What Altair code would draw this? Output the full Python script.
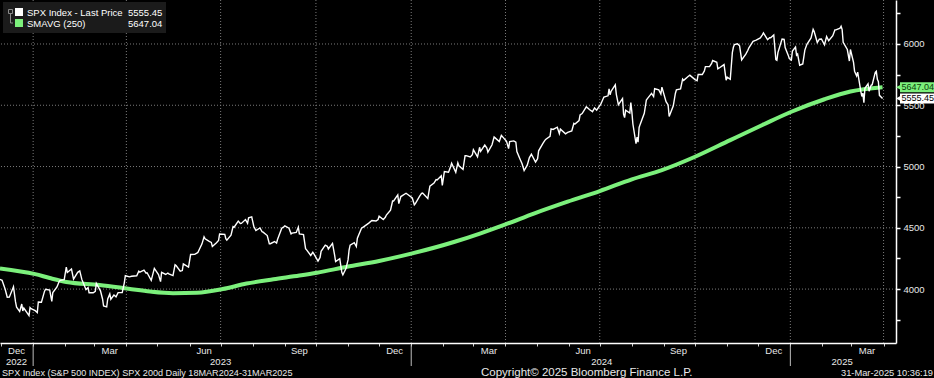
import altair as alt
import pandas as pd

FONT = "Liberation Sans, Arial, sans-serif"
WHITE = "#ffffff"
GREEN = "#7cf07c"
GRID = "#7a7a7a"
TXT = "#e8e8e8"

# SPX Index - Last Price (date, close)
spx_2022 = [
    ("2022-11-30", 4080), ("2022-12-01", 4076), ("2022-12-02", 4072), ("2022-12-05", 3998),
    ("2022-12-07", 3933), ("2022-12-09", 3934), ("2022-12-13", 4019), ("2022-12-15", 3895),
    ("2022-12-16", 3852), ("2022-12-19", 3817), ("2022-12-21", 3878), ("2022-12-22", 3822),
    ("2022-12-23", 3845), ("2022-12-28", 3783), ("2022-12-29", 3849), ("2022-12-30", 3840),
]
spx_2023 = [
    ("2023-01-03", 3824), ("2023-01-05", 3808), ("2023-01-06", 3895), ("2023-01-09", 3893),
    ("2023-01-12", 3983), ("2023-01-13", 3999), ("2023-01-17", 3991), ("2023-01-19", 3899),
    ("2023-01-20", 3972), ("2023-01-24", 4017), ("2023-01-26", 4060), ("2023-01-27", 4071),
    ("2023-01-31", 4077), ("2023-02-02", 4180), ("2023-02-03", 4136), ("2023-02-07", 4164),
    ("2023-02-09", 4082), ("2023-02-13", 4137), ("2023-02-15", 4148), ("2023-02-17", 4079),
    ("2023-02-21", 3997), ("2023-02-23", 4012), ("2023-02-24", 3970), ("2023-02-28", 3970),
    ("2023-03-02", 3982), ("2023-03-03", 4046), ("2023-03-07", 3986), ("2023-03-09", 3919),
    ("2023-03-10", 3862), ("2023-03-13", 3855), ("2023-03-14", 3920), ("2023-03-16", 3960),
    ("2023-03-17", 3917), ("2023-03-20", 3951), ("2023-03-22", 3937), ("2023-03-24", 3971),
    ("2023-03-28", 3971), ("2023-03-30", 4051), ("2023-03-31", 4109), ("2023-04-04", 4100),
    ("2023-04-06", 4105), ("2023-04-11", 4109), ("2023-04-13", 4146), ("2023-04-14", 4138),
    ("2023-04-18", 4154), ("2023-04-20", 4130), ("2023-04-21", 4133), ("2023-04-25", 4071),
    ("2023-04-27", 4136), ("2023-04-28", 4169), ("2023-05-02", 4119), ("2023-05-04", 4061),
    ("2023-05-05", 4136), ("2023-05-09", 4119), ("2023-05-11", 4131), ("2023-05-12", 4124),
    ("2023-05-16", 4110), ("2023-05-18", 4198), ("2023-05-19", 4192), ("2023-05-23", 4146),
    ("2023-05-25", 4151), ("2023-05-26", 4205), ("2023-05-31", 4180), ("2023-06-02", 4282),
    ("2023-06-06", 4283), ("2023-06-08", 4293), ("2023-06-09", 4299), ("2023-06-13", 4369),
    ("2023-06-15", 4426), ("2023-06-16", 4410), ("2023-06-20", 4389), ("2023-06-22", 4381),
    ("2023-06-23", 4348), ("2023-06-27", 4378), ("2023-06-29", 4397), ("2023-06-30", 4450),
    ("2023-07-05", 4446), ("2023-07-06", 4412), ("2023-07-07", 4399), ("2023-07-11", 4439),
    ("2023-07-13", 4510), ("2023-07-14", 4505), ("2023-07-18", 4555), ("2023-07-20", 4535),
    ("2023-07-21", 4536), ("2023-07-25", 4567), ("2023-07-27", 4537), ("2023-07-28", 4582),
    ("2023-07-31", 4589), ("2023-08-02", 4513), ("2023-08-04", 4478), ("2023-08-08", 4499),
    ("2023-08-10", 4468), ("2023-08-11", 4464), ("2023-08-15", 4437), ("2023-08-17", 4370),
    ("2023-08-18", 4370), ("2023-08-22", 4388), ("2023-08-24", 4376), ("2023-08-25", 4406),
    ("2023-08-29", 4497), ("2023-08-31", 4508), ("2023-09-01", 4516), ("2023-09-05", 4497),
    ("2023-09-07", 4451), ("2023-09-08", 4457), ("2023-09-12", 4462), ("2023-09-14", 4505),
    ("2023-09-15", 4450), ("2023-09-19", 4444), ("2023-09-21", 4330), ("2023-09-22", 4320),
    ("2023-09-26", 4274), ("2023-09-28", 4300), ("2023-09-29", 4288), ("2023-10-03", 4229),
    ("2023-10-05", 4258), ("2023-10-06", 4308), ("2023-10-10", 4358), ("2023-10-12", 4349),
    ("2023-10-13", 4327), ("2023-10-17", 4373), ("2023-10-19", 4279), ("2023-10-20", 4224),
    ("2023-10-24", 4248), ("2023-10-26", 4137), ("2023-10-27", 4117), ("2023-10-30", 4167),
    ("2023-11-01", 4238), ("2023-11-02", 4318), ("2023-11-03", 4358), ("2023-11-07", 4378),
    ("2023-11-09", 4347), ("2023-11-10", 4415), ("2023-11-14", 4496), ("2023-11-16", 4508),
    ("2023-11-17", 4514), ("2023-11-21", 4538), ("2023-11-24", 4559), ("2023-11-28", 4555),
    ("2023-11-30", 4568), ("2023-12-01", 4595), ("2023-12-05", 4567), ("2023-12-07", 4586),
    ("2023-12-08", 4604), ("2023-12-12", 4644), ("2023-12-14", 4719), ("2023-12-15", 4719),
    ("2023-12-19", 4768), ("2023-12-20", 4698), ("2023-12-22", 4755), ("2023-12-27", 4782),
    ("2023-12-29", 4770),
]
spx_2024 = [
    ("2024-01-02", 4743), ("2024-01-04", 4688), ("2024-01-05", 4697), ("2024-01-09", 4756),
    ("2024-01-11", 4781), ("2024-01-12", 4784), ("2024-01-17", 4739), ("2024-01-19", 4840),
    ("2024-01-23", 4865), ("2024-01-25", 4894), ("2024-01-26", 4891), ("2024-01-30", 4925),
    ("2024-01-31", 4846), ("2024-02-02", 4959), ("2024-02-06", 4954), ("2024-02-08", 4998),
    ("2024-02-09", 5027), ("2024-02-13", 4953), ("2024-02-15", 5030), ("2024-02-16", 5006),
    ("2024-02-20", 4976), ("2024-02-22", 5088), ("2024-02-23", 5089), ("2024-02-27", 5078),
    ("2024-02-29", 5096), ("2024-03-01", 5137), ("2024-03-05", 5079), ("2024-03-07", 5157),
    ("2024-03-08", 5124), ("2024-03-12", 5175), ("2024-03-14", 5150), ("2024-03-15", 5117),
    ("2024-03-19", 5178), ("2024-03-21", 5241), ("2024-03-22", 5234), ("2024-03-26", 5204),
    ("2024-03-28", 5254), ("2024-04-02", 5205), ("2024-04-04", 5147), ("2024-04-05", 5204),
    ("2024-04-09", 5209), ("2024-04-11", 5199), ("2024-04-12", 5123), ("2024-04-15", 5061),
    ("2024-04-17", 5022), ("2024-04-19", 4967), ("2024-04-22", 5011), ("2024-04-24", 5071),
    ("2024-04-26", 5100), ("2024-04-30", 5036), ("2024-05-02", 5064), ("2024-05-03", 5128),
    ("2024-05-07", 5187), ("2024-05-09", 5214), ("2024-05-10", 5223), ("2024-05-14", 5247),
    ("2024-05-15", 5308), ("2024-05-17", 5303), ("2024-05-21", 5321), ("2024-05-23", 5268),
    ("2024-05-24", 5305), ("2024-05-29", 5267), ("2024-05-31", 5278), ("2024-06-04", 5291),
    ("2024-06-06", 5353), ("2024-06-07", 5347), ("2024-06-11", 5375), ("2024-06-12", 5421),
    ("2024-06-14", 5432), ("2024-06-18", 5487), ("2024-06-20", 5473), ("2024-06-21", 5465),
    ("2024-06-24", 5448), ("2024-06-26", 5478), ("2024-06-28", 5460), ("2024-07-02", 5509),
    ("2024-07-05", 5567), ("2024-07-09", 5577), ("2024-07-10", 5633), ("2024-07-11", 5585),
    ("2024-07-12", 5615), ("2024-07-16", 5667), ("2024-07-17", 5589), ("2024-07-19", 5505),
    ("2024-07-23", 5555), ("2024-07-24", 5427), ("2024-07-25", 5399), ("2024-07-26", 5459),
    ("2024-07-30", 5436), ("2024-07-31", 5522), ("2024-08-01", 5446), ("2024-08-02", 5347),
    ("2024-08-05", 5186), ("2024-08-06", 5240), ("2024-08-07", 5199), ("2024-08-08", 5319),
    ("2024-08-09", 5344), ("2024-08-13", 5434), ("2024-08-15", 5543), ("2024-08-16", 5554),
    ("2024-08-20", 5597), ("2024-08-22", 5571), ("2024-08-23", 5635), ("2024-08-27", 5626),
    ("2024-08-29", 5592), ("2024-08-30", 5648), ("2024-09-03", 5529), ("2024-09-05", 5503),
    ("2024-09-06", 5408), ("2024-09-10", 5496), ("2024-09-12", 5596), ("2024-09-13", 5626),
    ("2024-09-17", 5634), ("2024-09-19", 5714), ("2024-09-20", 5703), ("2024-09-24", 5733),
    ("2024-09-26", 5745), ("2024-09-27", 5738), ("2024-10-01", 5709), ("2024-10-03", 5700),
    ("2024-10-04", 5751), ("2024-10-08", 5751), ("2024-10-10", 5780), ("2024-10-11", 5815),
    ("2024-10-15", 5815), ("2024-10-17", 5841), ("2024-10-18", 5865), ("2024-10-22", 5851),
    ("2024-10-23", 5797), ("2024-10-25", 5808), ("2024-10-29", 5832), ("2024-10-31", 5705),
    ("2024-11-01", 5729), ("2024-11-04", 5712), ("2024-11-06", 5929), ("2024-11-07", 5973),
    ("2024-11-08", 5995), ("2024-11-11", 6001), ("2024-11-13", 5985), ("2024-11-15", 5870),
    ("2024-11-19", 5917), ("2024-11-21", 5949), ("2024-11-22", 5969), ("2024-11-26", 6021),
    ("2024-11-29", 6032), ("2024-12-03", 6049), ("2024-12-05", 6075), ("2024-12-06", 6090),
    ("2024-12-10", 6035), ("2024-12-12", 6051), ("2024-12-13", 6051), ("2024-12-16", 6074),
    ("2024-12-18", 5872), ("2024-12-19", 5867), ("2024-12-20", 5930), ("2024-12-24", 6040),
    ("2024-12-26", 6037), ("2024-12-27", 5971), ("2024-12-30", 5907), ("2024-12-31", 5882),
]
spx_2025 = [
    ("2025-01-02", 5869), ("2025-01-03", 5942), ("2025-01-06", 5975), ("2025-01-07", 5909),
    ("2025-01-08", 5918), ("2025-01-10", 5827), ("2025-01-13", 5837), ("2025-01-15", 5950),
    ("2025-01-17", 5997), ("2025-01-21", 6049), ("2025-01-23", 6119), ("2025-01-24", 6101),
    ("2025-01-27", 6012), ("2025-01-29", 6039), ("2025-01-31", 6041), ("2025-02-03", 5994),
    ("2025-02-05", 6061), ("2025-02-07", 6026), ("2025-02-11", 6068), ("2025-02-13", 6115),
    ("2025-02-14", 6115), ("2025-02-18", 6129), ("2025-02-19", 6144), ("2025-02-20", 6118),
    ("2025-02-21", 6013), ("2025-02-25", 5955), ("2025-02-27", 5861), ("2025-02-28", 5955),
    ("2025-03-03", 5850), ("2025-03-04", 5778), ("2025-03-06", 5739), ("2025-03-07", 5770),
    ("2025-03-10", 5615), ("2025-03-11", 5572), ("2025-03-12", 5599), ("2025-03-13", 5521),
    ("2025-03-14", 5639), ("2025-03-17", 5675), ("2025-03-18", 5615), ("2025-03-20", 5663),
    ("2025-03-21", 5668), ("2025-03-24", 5768), ("2025-03-25", 5777), ("2025-03-26", 5712),
    ("2025-03-27", 5693), ("2025-03-28", 5581), ("2025-03-31", 5555.45),
]

# SMAVG (250)
sma_dates = [
    "2022-11-30", "2023-01-03", "2023-01-17", "2023-02-02", "2023-03-06", "2023-04-03",
    "2023-04-24", "2023-05-16", "2023-06-08", "2023-07-03", "2023-07-26", "2023-08-21",
    "2023-09-15", "2023-10-02", "2023-10-31", "2023-12-01", "2024-01-02", "2024-02-12",
    "2024-03-08", "2024-04-01", "2024-04-29", "2024-05-31", "2024-07-01", "2024-08-01",
    "2024-08-30", "2024-10-01", "2024-11-04", "2024-12-05", "2025-01-02", "2025-02-03",
    "2025-02-28", "2025-03-31",
]
sma_values = [
    4169, 4122, 4090, 4058, 4033, 4003,
    3980, 3967, 3970, 4000, 4045, 4080,
    4110, 4133, 4182, 4229, 4291, 4386,
    4455, 4528, 4618, 4713, 4800, 4896,
    4971, 5080, 5216, 5339, 5447, 5549,
    5612, 5647.04,
]

grid_levels = [4000, 4500, 5000, 5500, 6000]
quarter_starts = ["2023-01-01", "2023-04-01", "2023-07-01", "2023-10-01", "2024-01-01",
                  "2024-04-01", "2024-07-01", "2024-10-01", "2025-01-01", "2025-04-01"]
year_starts = ["2023-01-01", "2024-01-01", "2025-01-01"]
month_label_dates = ["2022-12-16", "2023-03-16", "2023-06-15", "2023-09-15", "2023-12-16",
                     "2024-03-16", "2024-06-15", "2024-09-15", "2024-12-16", "2025-03-16"]
month_labels = ["Dec", "Mar", "Jun", "Sep", "Dec", "Mar", "Jun", "Sep", "Dec", "Mar"]
year_label_dates = ["2022-12-16", "2023-07-01", "2024-07-03", "2025-02-20"]
year_labels = ["2022", "2023", "2024", "2025"]
tag_values = [5647.04, 5555.45]
tag_texts = ["5647.04", "5555.45"]
tag_fill = [GREEN, "#ffffff"]
tag_text_color = ["#0b3d0b", "#000000"]

price = pd.DataFrame(spx_2022 + spx_2023 + spx_2024 + spx_2025, columns=["date", "close"])
price["date"] = pd.to_datetime(price["date"])
sma = pd.DataFrame({"date": pd.to_datetime(sma_dates), "close": sma_values})

month_ticks = []
for y in (2022, 2023, 2024, 2025):
    for m in range(1, 13):
        if (y == 2022 and m < 12) or (y == 2025 and m > 4):
            continue
        month_ticks.append(alt.DateTime(year=y, month=m, date=1))

x_scale = alt.Scale(domain=[alt.DateTime(year=2022, month=11, date=30),
                            alt.DateTime(year=2025, month=4, date=13)], nice=False)
y_scale = alt.Scale(domain=[3560, 6359], nice=False, zero=False)

x_axis = alt.Axis(values=month_ticks, labels=False, grid=False, title=None,
                  domainColor=WHITE, domainWidth=1.5, tickColor="#cfcfcf",
                  tickSize=3, tickWidth=1)
y_axis = alt.Axis(orient="right", values=list(range(3750, 6251, 250)),
                  labelExpr="datum.value % 500 == 0 ? format(datum.value, 'd') : ''",
                  grid=False, title=None, domainColor=WHITE, domainWidth=1.5,
                  tickColor=WHITE, tickSize=4, tickWidth=1.5, labelColor=TXT,
                  labelFont=FONT, labelFontSize=9.5, labelPadding=3)


def X(field="date"):
    return alt.X(f"{field}:T", scale=x_scale, axis=x_axis)


def Y(field="close"):
    return alt.Y(f"{field}:Q", scale=y_scale, axis=y_axis)


hgrid = alt.Chart(pd.DataFrame({"close": grid_levels})).mark_rule(
    color=GRID, strokeDash=[1, 2], strokeWidth=1).encode(y=Y())
vgrid = alt.Chart(pd.DataFrame({"date": pd.to_datetime(quarter_starts)})).mark_rule(
    color=GRID, strokeDash=[1, 2], strokeWidth=1).encode(x=X())

sma_line = alt.Chart(sma).mark_line(color=GREEN, strokeWidth=4, interpolate="monotone").encode(
    x=X(), y=Y())
price_line = alt.Chart(price).mark_line(color=WHITE, strokeWidth=1.4).encode(x=X(), y=Y())

month_text = alt.Chart(pd.DataFrame({"date": pd.to_datetime(month_label_dates),
                                     "t": month_labels})).mark_text(
    font=FONT, fontSize=9.5, color=TXT, baseline="middle", align="center").encode(
    x=X(), y=alt.value(351), text="t:N")
year_text = alt.Chart(pd.DataFrame({"date": pd.to_datetime(year_label_dates),
                                    "t": year_labels})).mark_text(
    font=FONT, fontSize=9.5, color=TXT, baseline="middle", align="center").encode(
    x=X(), y=alt.value(362), text="t:N")
year_sep = alt.Chart(pd.DataFrame({"date": pd.to_datetime(year_starts)})).mark_rule(
    color="#bdbdbd", strokeWidth=1).encode(x=X(), y=alt.value(345), y2=alt.value(366))

tags_df = pd.DataFrame({"close": tag_values, "t": tag_texts, "fill": tag_fill,
                        "tc": tag_text_color})
tag_box = alt.Chart(tags_df).mark_rect(yOffset=-5, y2Offset=5).encode(
    x=alt.value(900), x2=alt.value(934), y=Y(), y2="close:Q",
    color=alt.Color("fill:N", scale=None))
tag_tip = alt.Chart(tags_df).mark_point(shape="triangle-left", filled=True, size=45,
                                        opacity=1).encode(
    x=alt.value(899), y=Y(), color=alt.Color("fill:N", scale=None))
tag_text = alt.Chart(tags_df).mark_text(font=FONT, fontSize=9, align="left",
                                        baseline="middle").encode(
    x=alt.value(901.5), y=Y(), text="t:N", color=alt.Color("tc:N", scale=None))

one = pd.DataFrame({"k": [0]})


def txt(s, x, y, align="left", color=TXT, size=11):
    return alt.Chart(one).mark_text(text=s, font=FONT, fontSize=size, align=align,
                                    baseline="middle", color=color).encode(
        x=alt.value(x), y=alt.value(y))


legend_box = alt.Chart(one).mark_rect(color="#1b1b1b").encode(
    x=alt.value(3), x2=alt.value(166), y=alt.value(2), y2=alt.value(33))
sq_white = alt.Chart(one).mark_rect(color=WHITE).encode(
    x=alt.value(15), x2=alt.value(23), y=alt.value(8), y2=alt.value(16))
sq_green = alt.Chart(one).mark_rect(color=GREEN).encode(
    x=alt.value(15), x2=alt.value(23), y=alt.value(19), y2=alt.value(27))
bracket_box = alt.Chart(one).mark_rect(fill=None, stroke="#8a8a8a", strokeWidth=1).encode(
    x=alt.value(8.5), x2=alt.value(12.5), y=alt.value(9.5), y2=alt.value(13.5))
bracket_v = alt.Chart(one).mark_rule(color="#8a8a8a").encode(
    x=alt.value(10.5), y=alt.value(13.5), y2=alt.value(23))
bracket_h = alt.Chart(one).mark_rule(color="#8a8a8a").encode(
    x=alt.value(10.5), x2=alt.value(13), y=alt.value(23))

layers = [
    hgrid, vgrid, sma_line, price_line,
    month_text, year_text, year_sep,
    tag_box, tag_tip, tag_text,
    legend_box, sq_white, sq_green, bracket_box, bracket_v, bracket_h,
    txt("SPX Index - Last Price", 27, 12.5, color=WHITE, size=9.5),
    txt("5555.45", 128, 12.5, color=WHITE, size=9.5),
    txt("SMAVG (250)", 27, 23.5, color=WHITE, size=9.5),
    txt("5647.04", 128, 23.5, color=WHITE, size=9.5),
    txt("SPX Index (S&P 500 INDEX) SPX 200d  Daily 18MAR2024-31MAR2025", 2, 373, size=9.1),
    txt("Copyright\u00a9 2025 Bloomberg Finance L.P.", 481, 373, size=11.5),
    txt("31-Mar-2025 10:36:19", 933, 373, align="right", size=9.3),
]

chart = alt.layer(*layers).properties(
    width=896, height=343,
    padding={"left": 0, "top": 0, "right": 38, "bottom": 35},
    autosize=alt.AutoSizeParams(type="none"),
    background="#000000",
).configure_view(stroke=None)

chart.save("out.html", embed_options={"renderer": "svg", "actions": False})
